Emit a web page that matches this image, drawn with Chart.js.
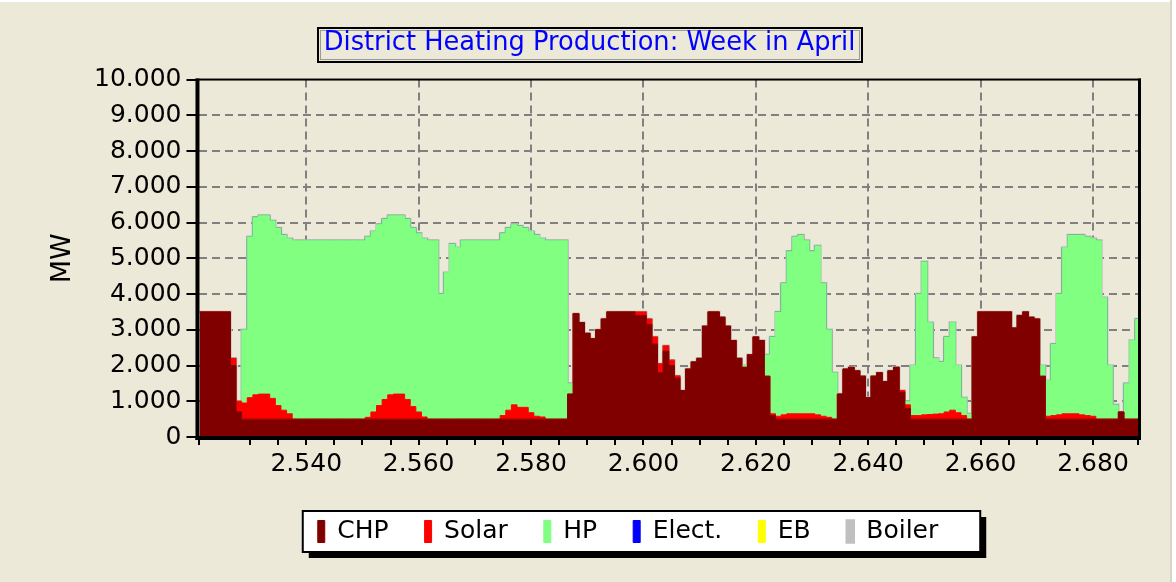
<!DOCTYPE html>
<html>
<head>
<meta charset="utf-8">
<title>District Heating Production: Week in April</title>
<script src="https://cdn.jsdelivr.net/npm/chart.js@4.4.1/dist/chart.umd.min.js"></script>
<style>
  html, body { margin: 0; padding: 0; background: #ECE9D8; }
  #wrap { width: 1176px; height: 582px; }
</style>
</head>
<body>
<div id="wrap"><canvas id="heatChart" width="1176" height="582"></canvas></div>
<script>
// hour of year, one value per hour (week in April)
const hours = Array.from({length: 168}, (_, i) => 2521 + i);

// MW, 12 hours per line
const chp = [
  3500,3500,3500,3500,3500,3500,2000,700,500,500,500,500,
  500,500,500,500,500,500,500,500,500,500,500,500,
  500,500,500,500,500,500,500,500,500,500,500,500,
  500,500,500,500,500,500,500,500,500,500,500,500,
  500,500,500,500,500,500,500,500,500,500,500,500,
  500,500,500,500,500,500,1200,3450,3200,2900,2750,3000,
  3300,3500,3500,3500,3500,3500,3400,3400,3150,2600,1800,2400,
  2000,1650,1300,1900,2100,2200,3100,3500,3500,3350,3100,2700,
  2200,1950,2300,2800,2700,1700,600,500,500,500,500,500,
  500,500,500,500,500,500,1200,1900,1950,1850,1700,1100,
  1700,1800,1550,1850,1950,1250,800,500,500,500,500,500,
  500,500,500,500,500,500,2800,3500,3500,3500,3500,3500,
  3500,3050,3400,3500,3350,3300,1700,500,500,500,500,500,
  500,500,500,500,500,500,500,500,700,500,500,500
];
const solar = [
  0,0,0,0,0,0,200,300,450,600,680,700,
  700,580,380,250,150,0,0,0,0,0,0,0,
  0,0,0,0,0,0,50,200,380,550,680,700,
  700,550,350,200,60,0,0,0,0,0,0,0,
  0,0,0,0,0,0,100,250,400,330,330,180,
  80,60,0,0,0,0,0,0,0,0,0,0,
  0,0,0,0,0,0,100,100,150,200,250,150,
  150,60,0,0,0,0,0,0,0,0,0,0,
  0,0,0,0,0,0,50,80,120,150,150,150,
  150,150,120,80,50,0,0,0,0,0,0,0,
  0,0,0,0,0,50,100,100,100,120,130,140,
  150,200,250,180,100,0,0,0,0,0,0,0,
  0,0,0,0,0,0,0,80,100,120,150,150,
  150,120,100,80,0,0,0,0,0,0,0,0
];
const hp = [
  0,0,0,0,0,0,0,0,2050,4500,4970,5000,
  5000,4970,4970,4900,4900,5000,5000,5000,5000,5000,5000,5000,
  5000,5000,5000,5000,5000,5000,5050,5050,5070,5050,5020,5000,
  5000,5050,5000,5000,4990,5000,5000,3500,4100,4900,4800,5000,
  5000,5000,5000,5000,5000,5000,5100,5100,5050,5070,5020,5070,
  5070,4990,5000,5000,5000,5000,300,0,0,0,0,0,
  0,0,0,0,0,0,0,0,0,0,0,0,
  0,0,0,0,0,0,0,0,0,0,0,0,
  0,50,0,0,0,600,2150,2920,3680,4550,4950,5000,
  4850,4550,4730,3720,2450,1300,0,0,0,0,0,0,
  0,0,0,0,0,0,100,1400,3400,4280,2570,1560,
  1450,2100,2450,1320,500,150,0,0,0,0,0,0,
  0,0,0,0,0,0,300,1000,2000,3380,4650,5000,
  5000,5030,5000,4970,5000,3400,1500,400,0,1000,2200,2800
];
const elect = [
  0,0,0,0,0,0,0,0,0,0,0,0, 0,0,0,0,0,0,0,0,0,0,0,0,
  0,0,0,0,0,0,0,0,0,0,0,0, 0,0,0,0,0,0,0,0,0,0,0,0,
  0,0,0,0,0,0,0,0,0,0,0,0, 0,0,0,0,0,0,0,0,0,0,0,0,
  0,0,0,0,0,0,0,0,0,0,0,0, 0,0,0,0,0,0,0,0,0,0,0,0,
  0,0,0,0,0,0,0,0,0,0,0,0, 0,0,0,0,0,0,0,0,0,0,0,0,
  0,0,0,0,0,0,0,0,0,0,0,0, 0,0,0,0,0,0,0,0,0,0,0,0,
  0,0,0,0,0,0,0,0,0,0,0,0, 0,0,0,0,0,0,0,0,0,0,0,0
];
const eb = [
  0,0,0,0,0,0,0,0,0,0,0,0, 0,0,0,0,0,0,0,0,0,0,0,0,
  0,0,0,0,0,0,0,0,0,0,0,0, 0,0,0,0,0,0,0,0,0,0,0,0,
  0,0,0,0,0,0,0,0,0,0,0,0, 0,0,0,0,0,0,0,0,0,0,0,0,
  0,0,0,0,0,0,0,0,0,0,0,0, 0,0,0,0,0,0,0,0,0,0,0,0,
  0,0,0,0,0,0,0,0,0,0,0,0, 0,0,0,0,0,0,0,0,0,0,0,0,
  0,0,0,0,0,0,0,0,0,0,0,0, 0,0,0,0,0,0,0,0,0,0,0,0,
  0,0,0,0,0,0,0,0,0,0,0,0, 0,0,0,0,0,0,0,0,0,0,0,0
];
const boiler = [
  0,0,0,0,0,0,0,0,0,0,0,0, 0,0,0,0,0,0,0,0,0,0,0,0,
  0,0,0,0,0,0,0,0,0,0,0,0, 0,0,0,0,0,0,0,0,0,0,0,0,
  0,0,0,0,0,0,0,0,0,0,0,0, 0,0,0,0,0,0,0,0,0,0,0,0,
  0,0,0,0,0,0,0,0,0,0,0,0, 0,0,0,0,0,0,0,0,0,0,0,0,
  0,0,0,0,0,0,0,0,0,0,0,0, 0,0,0,0,0,0,0,0,0,0,0,0,
  0,0,0,0,0,0,0,0,0,0,0,0, 0,0,0,0,0,0,0,0,0,0,0,0,
  0,0,0,0,0,0,0,0,0,0,0,0, 0,0,0,0,0,0,0,0,0,0,0,0
];

const seriesNames = ['CHP', 'Solar', 'HP', 'Elect.', 'EB', 'Boiler'];
const seriesData = [chp, solar, hp, elect, eb, boiler];
const seriesColors = ['#800000', '#FF0000', '#80FF80', '#0000FF', '#FFFF00', '#C0C0C0'];
const yTicks = [0, 1000, 2000, 3000, 4000, 5000, 6000, 7000, 8000, 9000, 10000];
const titleText = 'District Heating Production: Week in April';

const BG = '#ECE9D8';
const FONT = 'DejaVu Sans';
const TITLE_SIZE = 25.7;

// 10000 -> "10.000"
function fmt(v){ return String(v).replace(/\B(?=(\d{3})+(?!\d))/g, '.'); }

const framePlugin = {
  id: 'frames',
  afterLayout(chart){
    // put the legend where the original one sits
    const lg = chart.legend;
    if(!lg) return;
    const dx = 628 - (lg.left + lg.right) / 2;
    lg.left += dx; lg.right += dx;
  },
  beforeDraw(chart){
    const {ctx, width, height} = chart;
    ctx.save();
    ctx.fillStyle = BG;
    ctx.fillRect(0, 0, width, height);
    ctx.fillStyle = '#FFFFFF';
    ctx.fillRect(0, 0, width, 2);
    ctx.fillStyle = '#D8D5C6';
    ctx.fillRect(width - 6, 0, 2, height);
    ctx.fillStyle = '#FFFFFF';
    ctx.fillRect(width - 4, 0, 4, height);

    // title frame
    const tb = chart.titleBlock;
    ctx.font = TITLE_SIZE + 'px "' + FONT + '"';
    const tw = ctx.measureText(titleText).width;
    const cx = (tb.left + tb.right) / 2;
    ctx.strokeStyle = '#000';
    ctx.lineWidth = 2;
    ctx.strokeRect(Math.round(cx - tw / 2 - 6), 28, Math.round(tw + 12), 34);
    ctx.strokeStyle = '#9A9A9A';
    ctx.lineWidth = 1;
    ctx.strokeRect(Math.round(cx - tw / 2 - 4) + 0.5, 30.5, Math.round(tw + 8) - 1, 29);

    // legend frame with shadow
    const hb = chart.legend.legendHitBoxes;
    if(hb && hb.length){
      const first = hb[0], last = hb[hb.length - 1];
      const x0 = first.left - 15, x1 = last.left + last.width + 42;
      const y0 = first.top - 8, y1 = first.top + first.height + 8;
      ctx.fillStyle = '#000';
      ctx.fillRect(x0 + 6, y0 + 6, x1 - x0, y1 - y0);
      ctx.fillStyle = '#FFFFFF';
      ctx.fillRect(x0, y0, x1 - x0, y1 - y0);
      ctx.strokeStyle = '#000';
      ctx.lineWidth = 2;
      ctx.strokeRect(x0, y0, x1 - x0, y1 - y0);
    }
    ctx.restore();
  },
  afterDatasetsDraw(chart){
    const {ctx, chartArea: a} = chart;
    ctx.save();
    ctx.fillStyle = '#000';
    ctx.fillRect(a.left - 4, a.top - 1, 4, a.bottom - a.top + 4);    // left, thick
    ctx.fillRect(a.left - 4, a.bottom - 1, a.right - a.left + 7, 4);  // bottom, thick
    ctx.fillRect(a.left - 4, a.top - 1, a.right - a.left + 7, 2);     // top
    ctx.fillRect(a.right, a.top - 1, 3, a.bottom - a.top + 4);         // right
    ctx.restore();
  }
};

const datasets = seriesNames.map((name, k) => ({
  label: name,
  data: seriesData[k].map((v, i) => ({x: hours[i], y: v})),
  backgroundColor: seriesColors[k],
  borderColor: seriesColors[k],
  borderWidth: name === 'Boiler' ? 2.5 : 1,
  fill: k === 0 ? 'origin' : '-1',
  stepped: 'middle',
  pointRadius: 0,
  tension: 0
}));

new Chart(document.getElementById('heatChart'), {
  type: 'line',
  data: { datasets },
  plugins: [framePlugin],
  options: {
    responsive: false,
    animation: false,
    events: [],
    layout: { padding: { left: 41, right: 38, top: 0, bottom: 28 } },
    plugins: {
      title: {
        display: true, text: titleText, color: '#0000FF',
        font: { family: FONT, size: TITLE_SIZE, weight: 'normal', lineHeight: 1.15 },
        padding: { top: 29, bottom: 21 }
      },
      legend: {
        position: 'bottom',
        labels: {
          color: '#000', boxWidth: 7, boxHeight: 22, padding: 36,
          font: { family: FONT, size: 25 }
        }
      },
      tooltip: { enabled: false }
    },
    scales: {
      x: {
        type: 'linear', min: 2521, max: 2688,
        ticks: {
          stepSize: 5, autoSkip: false, maxRotation: 0, color: '#000', padding: 4,
          font: { family: FONT, size: 25 },
          callback: v => (v % 20 === 0 ? fmt(v) : '')
        },
        grid: {
          color: c => (c.tick && c.tick.value % 20 === 0 ? '#808080' : 'transparent'),
          lineWidth: 2, tickColor: '#000', tickWidth: 2, tickLength: 8, tickBorderDash: []
        },
        border: { display: false, dash: [8, 5] }
      },
      y: {
        stacked: true, min: 0, max: 10000,
        afterBuildTicks: s => { s.ticks = yTicks.map(v => ({value: v})); },
        ticks: {
          color: '#000', padding: 5,
          font: { family: FONT, size: 25 },
          callback: v => fmt(v)
        },
        grid: {
          color: c => (c.tick && c.tick.value > 0 && c.tick.value < 10000 ? '#808080' : 'transparent'),
          lineWidth: 2, tickColor: '#000', tickWidth: 2, tickLength: 13, tickBorderDash: []
        },
        border: { display: false, dash: [8, 5] },
        title: {
          display: true, text: 'MW', color: '#000',
          font: { family: FONT, size: 27, lineHeight: 1 },
          padding: { top: 8, bottom: 13 }
        }
      }
    }
  }
});
</script>
</body>
</html>
